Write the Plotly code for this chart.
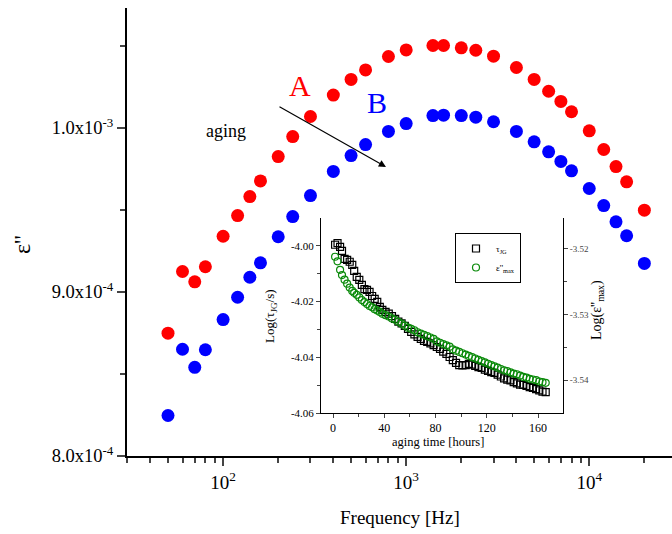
import plotly.graph_objects as go

# ---------------- main data ----------------
freq = [50, 60, 70, 80, 100, 120, 140, 160, 200, 240, 300, 400, 500, 600, 800,
        1000, 1400, 1600, 2000, 2400, 3000, 4000, 5000, 6000, 7000, 8000,
        10000, 12000, 14000, 16000, 20000]
eps_A = [8.749, 9.125, 9.062, 9.154, 9.340, 9.466, 9.582, 9.677, 9.826, 9.948,
         10.070, 10.201, 10.296, 10.354, 10.436, 10.476, 10.503, 10.503, 10.489,
         10.474, 10.438, 10.369, 10.296, 10.224, 10.162, 10.099, 9.983, 9.869,
         9.765, 9.672, 9.499]
eps_B = [8.247, 8.651, 8.541, 8.648, 8.832, 8.968, 9.090, 9.178, 9.337, 9.460,
         9.588, 9.735, 9.832, 9.899, 9.979, 10.027, 10.076, 10.078, 10.076,
         10.066, 10.038, 9.979, 9.916, 9.855, 9.796, 9.739, 9.631, 9.527,
         9.428, 9.343, 9.174]
eps_A = [v * 1e-4 for v in eps_A]
eps_B = [v * 1e-4 for v in eps_B]

# ---------------- inset data ----------------
t_age = [1.6, 3.5, 5.5, 7, 9, 11, 13, 15, 16.5, 18.5, 20.5, 22.5, 24.5, 26.5,
         28.5, 30.5, 32.5, 34.5, 36.5, 38.5, 41, 43.5, 46, 48.5, 51, 53.5, 56,
         58.5, 61, 63.5, 66, 68.5, 71, 73.5, 76, 78.5, 81, 83.5, 86, 88.5, 91,
         93.5, 96, 98.5, 101, 103.5, 106, 108.5, 111, 113.5, 116, 118.5, 121,
         123.5, 126, 128.5, 131, 133.5, 136, 138.5, 141, 143.5, 146, 148.5,
         151, 153.5, 156, 158.5, 161, 163.5, 166]
log_tau = [-3.9996, -3.9990, -4.0004, -4.0018, -4.0047, -4.0050, -4.0057,
           -4.0068, -4.0090, -4.0111, -4.0122, -4.0140, -4.0155, -4.0158,
           -4.0165, -4.0180, -4.0190, -4.0201, -4.0219, -4.0230, -4.0237,
           -4.0243, -4.0252, -4.0262, -4.0272, -4.0278, -4.0287, -4.0298,
           -4.0309, -4.0318, -4.0327, -4.0334, -4.0341, -4.0345, -4.0350,
           -4.0356, -4.0363, -4.0370, -4.0380, -4.0388, -4.0399, -4.0410,
           -4.0420, -4.0428, -4.0429, -4.0428, -4.0424, -4.0426, -4.0431,
           -4.0435, -4.0438, -4.0444, -4.0449, -4.0453, -4.0456, -4.0462,
           -4.0469, -4.0476, -4.0480, -4.0483, -4.0489, -4.0494, -4.0498,
           -4.0499, -4.0503, -4.0507, -4.0510, -4.0514, -4.0519, -4.0523,
           -4.0525]
log_epsmax = [-3.5212, -3.5219, -3.5232, -3.5240, -3.5247, -3.5253, -3.5259,
              -3.5264, -3.5267, -3.5270, -3.5274, -3.5278, -3.5281, -3.5284,
              -3.5287, -3.5289, -3.5292, -3.5294, -3.5296, -3.5299, -3.5301,
              -3.5303, -3.5306, -3.5308, -3.5311, -3.5314, -3.5317, -3.5320,
              -3.5322, -3.5324, -3.5327, -3.5329, -3.5331, -3.5333, -3.5335,
              -3.5337, -3.5341, -3.5343, -3.5345, -3.5347, -3.5349, -3.5353,
              -3.5355, -3.5357, -3.5359, -3.5361, -3.5363, -3.5365, -3.5367,
              -3.5369, -3.5371, -3.5373, -3.5375, -3.5377, -3.5379, -3.5381,
              -3.5383, -3.5385, -3.5386, -3.5388, -3.5390, -3.5391, -3.5393,
              -3.5395, -3.5396, -3.5398, -3.5399, -3.5400, -3.5402, -3.5403,
              -3.5404]

x_major = [100, 1000, 10000]
x_major_text = ["10<sup>2</sup>", "10<sup>3</sup>", "10<sup>4</sup>"]
x_minor = [30, 40, 50, 60, 70, 80, 90, 200, 300, 400, 500, 600, 700, 800, 900,
           2000, 3000, 4000, 5000, 6000, 7000, 8000, 9000, 20000]
y_major = [8e-4, 9e-4, 1e-3]
y_major_text = ["8.0x10<sup>-4</sup>", "9.0x10<sup>-4</sup>", "1.0x10<sup>-3</sup>"]
y_minor = [8.5e-4, 9.5e-4, 1.05e-3]

in_x_ticks = [0, 40, 80, 120, 160]
in_x_minor = [20, 60, 100, 140]
in_yl_ticks = [-4.06, -4.04, -4.02, -4.00]
in_yl_text = ["-4.06", "-4.04", "-4.02", "-4.00"]
in_yl_minor = [-4.05, -4.03, -4.01]
in_yr_ticks = [-3.54, -3.53, -3.52]
in_yr_text = ["-3.54", "-3.53", "-3.52"]
in_yr_minor = [-3.535, -3.525]

SERIF = "Liberation Serif"

fig = go.Figure()
fig.add_trace(go.Scatter(x=freq, y=eps_A, mode="markers", showlegend=False,
                         marker=dict(color="#ff0000", size=13), xaxis="x", yaxis="y"))
fig.add_trace(go.Scatter(x=freq, y=eps_B, mode="markers", showlegend=False,
                         marker=dict(color="#0000ff", size=13), xaxis="x", yaxis="y"))
fig.add_trace(go.Scatter(x=t_age, y=log_tau, mode="markers", name="τ<sub>JG</sub>",
                         marker=dict(symbol="square-open", color="black", size=7,
                                     line=dict(width=1.2)),
                         xaxis="x2", yaxis="y2"))
fig.add_trace(go.Scatter(x=t_age, y=log_epsmax, mode="markers", name="ε''<sub>max</sub>",
                         marker=dict(symbol="circle-open", color="#0a8a0a", size=7,
                                     line=dict(width=1.2)),
                         xaxis="x2", yaxis="y3"))

L, T, B = 127, 8, 78
W, H = 672, 534
pw, ph = W - L, H - T - B

def px(xp):
    return (xp - L) / pw

def py(yp):
    return (H - B - yp) / ph

xr = [1.475, 4.452]
yr = [8e-4, 8e-4 + ph / 164 * 1e-4]

in_dom_x = [px(321), px(563)]
in_dom_y = [py(413), py(218)]

fig.update_layout(
    width=W, height=H,
    margin=dict(l=L, r=0, t=T, b=B),
    paper_bgcolor="white", plot_bgcolor="white",
    font=dict(family=SERIF, color="black"),
    xaxis=dict(type="log", range=xr, showline=True, linecolor="black", linewidth=2,
               ticks="outside", ticklen=8, tickwidth=2, tickvals=x_major,
               ticktext=x_major_text, tickfont=dict(size=19, family=SERIF),
               minor=dict(tickvals=x_minor, ticks="outside", ticklen=5, tickwidth=1.5),
               showgrid=False, zeroline=False, anchor="y"),
    xaxis3=dict(type="log", range=xr, overlaying="x", side="top", anchor="y",
                showline=True, linecolor="black", linewidth=2,
                ticks="inside", ticklen=5, tickwidth=1, tickvals=x_major,
                showticklabels=False,
                minor=dict(tickvals=x_minor, ticks="inside", ticklen=3, tickwidth=1),
                showgrid=False, zeroline=False),
    yaxis=dict(range=yr, showline=True, linecolor="black", linewidth=2,
               ticks="outside", ticklen=8, tickwidth=2, tickvals=y_major,
               ticktext=y_major_text, tickfont=dict(size=18.5, family=SERIF),
               minor=dict(tickvals=y_minor, ticks="outside", ticklen=5, tickwidth=1.5),
               showgrid=False, zeroline=False, anchor="x"),
    xaxis2=dict(domain=in_dom_x, anchor="y2", range=[-9.4, 179.5], showline=True,
                linecolor="black", linewidth=1, ticks="outside", ticklen=4,
                tickvals=in_x_ticks, tickfont=dict(size=12, family=SERIF),
                minor=dict(tickvals=in_x_minor, ticks="outside", ticklen=3),
                showgrid=False, zeroline=False),
    xaxis4=dict(overlaying="x2", anchor="y2", side="top", range=[-9.4, 179.5],
                showline=True, linecolor="black", linewidth=1, ticks="inside",
                ticklen=4, tickvals=in_x_ticks, showticklabels=False,
                minor=dict(tickvals=in_x_minor, ticks="inside", ticklen=3),
                showgrid=False, zeroline=False),
    yaxis2=dict(domain=in_dom_y, anchor="x2", range=[-4.06, -3.99], showline=True,
                linecolor="black", linewidth=1, ticks="outside", ticklen=4,
                tickvals=in_yl_ticks, ticktext=in_yl_text,
                tickfont=dict(size=11, family=SERIF),
                minor=dict(tickvals=in_yl_minor, ticks="outside", ticklen=3),
                showgrid=False, zeroline=False),
    yaxis3=dict(overlaying="y2", anchor="x2", side="right", range=[-3.545, -3.5153],
                showline=True, linecolor="black", linewidth=1, ticks="outside",
                ticklen=4, tickvals=in_yr_ticks, ticktext=in_yr_text,
                tickfont=dict(size=9, family=SERIF, color="#444"),
                minor=dict(tickvals=in_yr_minor, ticks="outside", ticklen=3),
                showgrid=False, zeroline=False),
    legend=dict(x=px(455), y=py(233), xanchor="left", yanchor="top",
                bordercolor="black", borderwidth=1, bgcolor="white",
                font=dict(size=9, family=SERIF), itemwidth=30,
                tracegroupgap=2),
    showlegend=True,
)

ann = [
    dict(text="A", x=px(300), y=py(85), font=dict(size=30, color="#ff0000", family=SERIF)),
    dict(text="B", x=px(377), y=py(103), font=dict(size=30, color="#0000ff", family=SERIF)),
    dict(text="aging", x=px(226), y=py(131), font=dict(size=18, color="black", family=SERIF)),
    dict(text="ε''", x=px(22), y=py(245), textangle=-90, font=dict(size=24, family=SERIF)),
    dict(text="Frequency [Hz]", x=px(400), y=py(517), font=dict(size=19, family=SERIF)),
    dict(text="aging time [hours]", x=px(438), y=py(442), font=dict(size=12.5, family=SERIF)),
    dict(text="Log(τ<sub>JG</sub>/s)", x=px(270), y=py(316), textangle=-90,
         font=dict(size=13, family=SERIF)),
    dict(text="Log(ε''<sub>max</sub>)", x=px(597), y=py(310), textangle=-90,
         font=dict(size=14, family=SERIF)),
]
for a in ann:
    a.update(xref="paper", yref="paper", showarrow=False, xanchor="center", yanchor="middle")
    fig.add_annotation(**a)

fig.add_annotation(x=px(386), y=py(167), xref="paper", yref="paper", text="",
                   showarrow=True, ax=278 - 386, ay=106 - 167, axref="pixel", ayref="pixel",
                   arrowhead=2, arrowsize=1.2, arrowwidth=1.2, arrowcolor="black")

fig.write_html("out.html")
